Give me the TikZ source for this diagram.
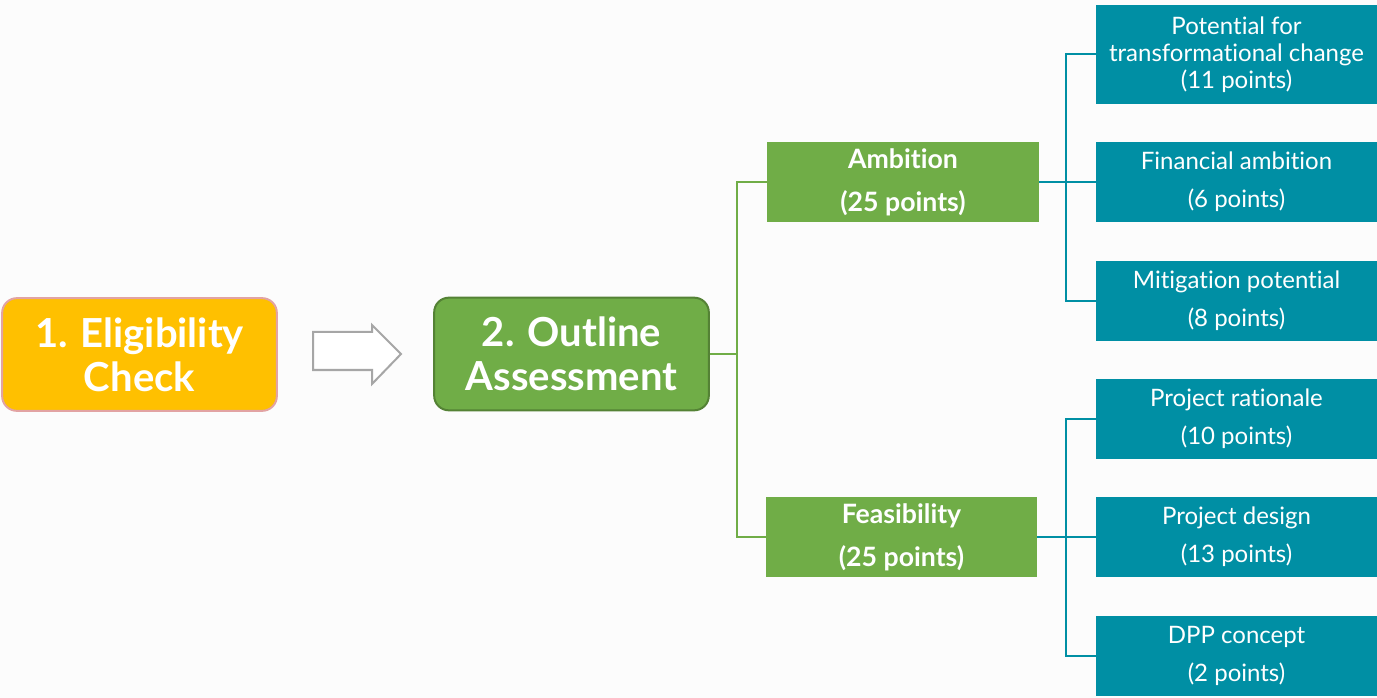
\documentclass[tikz,border=0pt]{standalone}
\usepackage{fontspec}
\setmainfont{Lato}[Ligatures={NoCommon}]
\definecolor{bgc}{HTML}{FCFCFC}
\definecolor{yel}{HTML}{FFC000}
\definecolor{yelb}{HTML}{E2A3A3}
\definecolor{grn}{HTML}{70AD47}
\definecolor{grnb}{HTML}{548235}
\definecolor{teal}{HTML}{008FA4}
\definecolor{arrg}{HTML}{A6A6A6}
\tikzset{
  bigbox/.style={rounded corners=11pt, line width=1.5pt, text=white, align=center,
    font=\fontsize{30}{33}\selectfont\bfseries, minimum width=206pt, minimum height=84.5pt, inner sep=0pt},
  midbox/.style={fill=grn, text=white, align=center, font=\fontsize{20}{32}\selectfont\bfseries,
    minimum width=204pt, minimum height=60pt, inner sep=0pt},
  subbox/.style={fill=teal, text=white, align=center, font=\fontsize{18}{28.5}\selectfont,
    minimum width=210.75pt, minimum height=60pt, inner sep=0pt},
  gline/.style={draw=grn, line width=1.5pt},
  tline/.style={draw=teal, line width=1.5pt},
}
\begin{document}
\begin{tikzpicture}[x=0.75pt,y=-0.75pt]
\fill[bgc] (0,0) rectangle (1377,698);
\useasboundingbox (0,0) rectangle (1377,698);
\node[bigbox, fill=yel, draw=yelb] (elig) at (139.5,354.5) {1. Eligibility\\Check};
\node[bigbox, fill=grn, draw=grnb] (outline) at (571.5,354) {2. Outline\\Assessment};
\draw[draw=arrg, line width=1.5pt, fill=white] (313,332) -- (372,332) -- (372,325) -- (401,354) -- (372,384) -- (372,370) -- (313,370) -- cycle;
\node[midbox] (amb) at (903,182) {Ambition\\(25 points)};
\node[midbox, minimum width=203.25pt] (feas) at (901.5,537) {Feasibility\\(25 points)};
\node[subbox, minimum height=74.25pt, font=\fontsize{18}{20.25}\selectfont] (r1) at (1236.5,54.5) {Potential for\\transformational change\\(11 points)};
\node[subbox] (r2) at (1236.5,182) {Financial ambition\\(6 points)};
\node[subbox] (r3) at (1236.5,301) {Mitigation potential\\(8 points)};
\node[subbox] (r4) at (1236.5,419) {Project rationale\\(10 points)};
\node[subbox] (r5) at (1236.5,537) {Project design\\(13 points)};
\node[subbox] (r6) at (1236.5,656) {DPP concept\\(2 points)};
\coordinate (j1) at (737,354);
\coordinate (j2) at (1066,182);
\coordinate (j3) at (1066,537);
\draw[gline] (outline.east) -- (j1) |- (amb.west);
\draw[gline] (j1) |- (feas.west);
\draw[tline] (amb.east) -- (r2.west);
\draw[tline] (j2) |- (r1.west);
\draw[tline] (j2) |- (r3.west);
\draw[tline] (feas.east) -- (r5.west);
\draw[tline] (j3) |- (r4.west);
\draw[tline] (j3) |- (r6.west);
\end{tikzpicture}
\end{document}
